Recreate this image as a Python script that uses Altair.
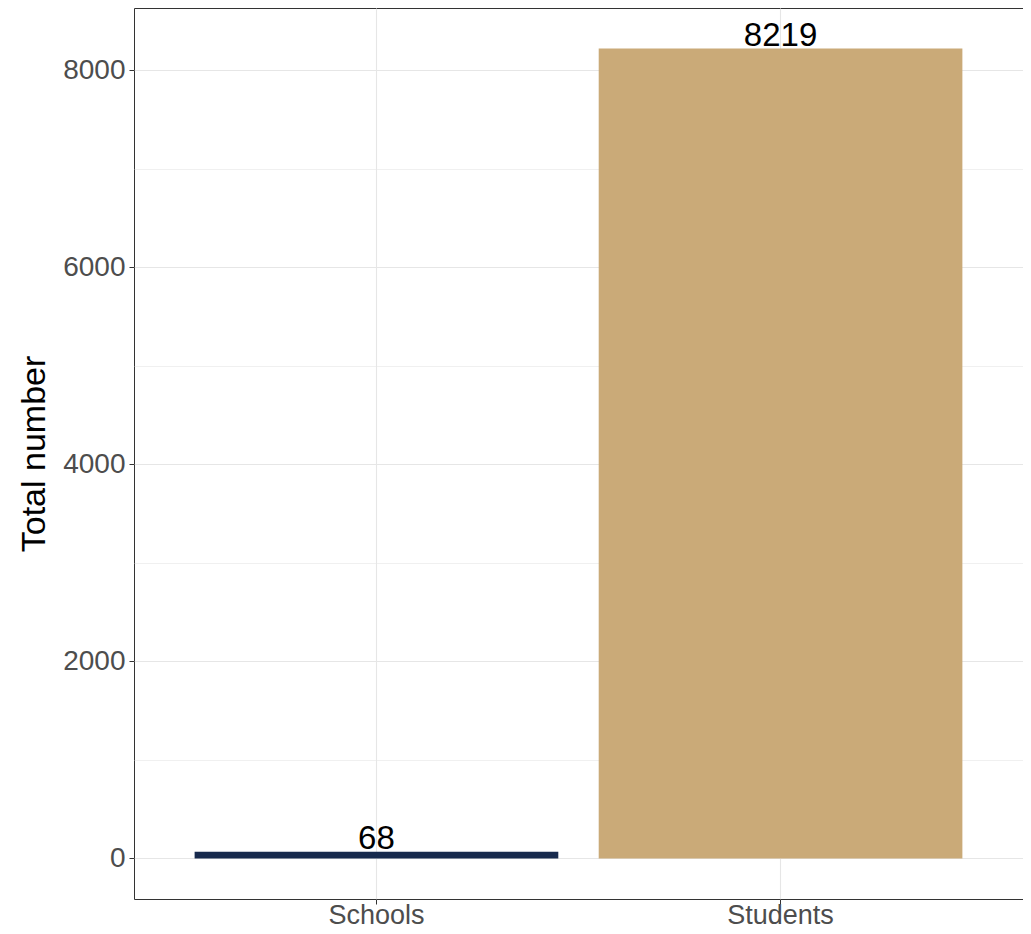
import altair as alt
import pandas as pd

categories = ["Schools", "Students"]
totals = [68, 8219]
bar_colors = ["#172A4D", "#CAAA78"]
y_tick_values = [0, 1000, 2000, 3000, 4000, 5000, 6000, 7000, 8000]
y_domain = [-411, 8630]

df = pd.DataFrame({"category": categories, "total": totals})

FONT = "Liberation Sans"

x_enc = alt.X(
    "category:N",
    title=None,
    sort=categories,
    scale=alt.Scale(paddingInner=0.1, paddingOuter=0.15),
    axis=alt.Axis(
        labelAngle=0,
        labelFontSize=27,
        labelColor="#4D4D4D",
        labelFont=FONT,
        tickColor="#333333",
        tickSize=5,
        tickWidth=1,
        labelPadding=-2,
        domain=False,
        grid=True,
        gridColor="#E6E6E6",
        gridWidth=1.1,
    ),
)

y_enc = alt.Y(
    "total:Q",
    title="Total number",
    scale=alt.Scale(domain=y_domain, nice=False, zero=False),
    axis=alt.Axis(
        values=y_tick_values,
        labelExpr="datum.value % 2000 === 0 ? datum.label : ''",
        format="d",
        labelFontSize=28,
        labelColor="#4D4D4D",
        labelFont=FONT,
        labelPadding=4,
        tickColor="#333333",
        tickSize=5,
        tickWidth=1,
        tickOpacity={"condition": {"test": "datum.value % 2000 !== 0", "value": 0}, "value": 1},
        domain=False,
        grid=True,
        gridColor="#E6E6E6",
        gridWidth={"condition": {"test": "datum.value % 2000 !== 0", "value": 0.6}, "value": 1.1},
        titleFontSize=34,
        titleFont=FONT,
        titleColor="#000000",
        titleFontWeight="normal",
        titlePadding=11,
    ),
)

base = alt.Chart(df).encode(x=x_enc, y=y_enc)

bars = base.mark_bar().encode(
    color=alt.Color(
        "category:N",
        scale=alt.Scale(domain=categories, range=bar_colors),
        legend=None,
    )
)

labels = base.mark_text(
    fontSize=33, font=FONT, baseline="alphabetic", dy=-3, color="#000000"
).encode(text=alt.Text("total:Q", format="d"))

chart = (
    alt.layer(bars, labels)
    .properties(
        width=889,
        height=891,
        padding={"left": 126, "top": 0, "right": 0, "bottom": 35},
        autosize=alt.AutoSizeParams(type="none"),
    )
    .configure_view(stroke="#333333", strokeWidth=1)
)

chart.save("out.html", embed_options={"renderer": "svg", "actions": False})
